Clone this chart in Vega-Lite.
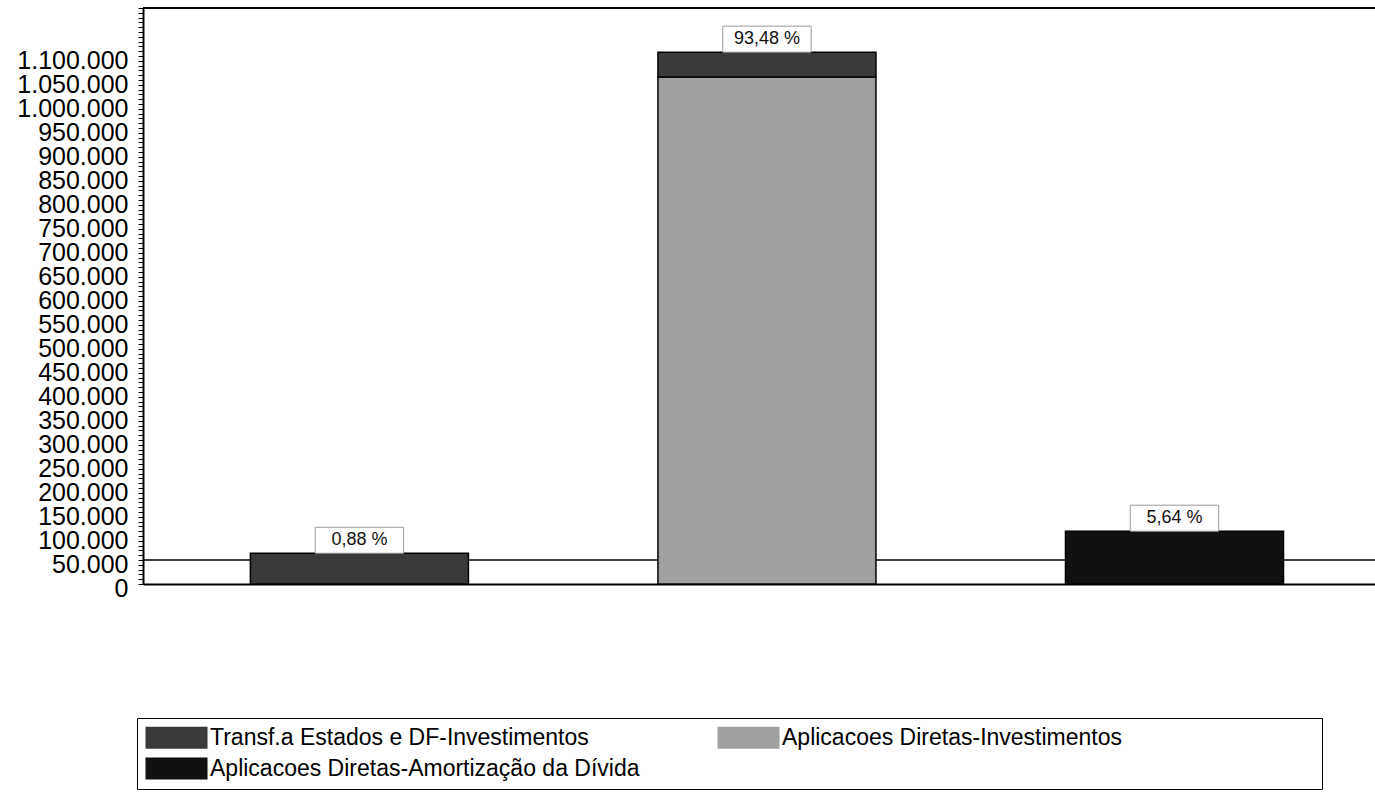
{
  "$schema": "https://vega.github.io/schema/vega-lite/v6.json",
  "autosize": "none",
  "padding": {"left": 143, "top": 8, "right": 0, "bottom": 208},
  "width": 1232,
  "height": 576,
  "background": "white",
  "config": {
    "locale": {"number": {"decimal": ",", "thousands": ".", "grouping": [3], "currency": ["R$ ", ""]}},
    "font": "Liberation Sans",
    "view": {"stroke": null}
  },
  "datasets": {
    "barras": [
      {"barra": "1", "serie": "Transf.a Estados e DF-Investimentos", "valor": 64000},
      {"barra": "2", "serie": "Aplicacoes Diretas-Investimentos", "valor": 1056000},
      {"barra": "2", "serie": "Transf.a Estados e DF-Investimentos", "valor": 52000},
      {"barra": "3", "serie": "Aplicacoes Diretas-Amortização da Dívida", "valor": 110000}
    ],
    "rotulos": [
      {"barra": "1", "total": 64000, "pct": "0,88 %"},
      {"barra": "2", "total": 1108000, "pct": "93,48 %"},
      {"barra": "3", "total": 110000, "pct": "5,64 %"}
    ]
  },
  "layer": [
    {
      "data": {"values": [{}]},
      "mark": {"type": "rule", "color": "black", "strokeWidth": 1.5},
      "encoding": {"y": {"datum": 50000, "type": "quantitative"}}
    },
    {
      "data": {"values": [{}]},
      "mark": {"type": "rule", "color": "black", "strokeWidth": 2},
      "encoding": {"y": {"datum": 1200000, "type": "quantitative"}}
    },
    {
      "data": {"name": "barras"},
      "mark": {"type": "bar", "stroke": "black", "strokeWidth": 1.5, "opacity": 1},
      "encoding": {
        "x": {
          "field": "barra", "type": "nominal",
          "scale": {"domain": ["1", "2", "3"], "paddingInner": 0.465, "paddingOuter": 0.244, "align": 0.54},
          "axis": {"title": null, "labels": false, "ticks": false, "domainColor": "black", "domainWidth": 2}
        },
        "y": {
          "field": "valor", "type": "quantitative", "stack": "zero",
          "scale": {"domain": [0, 1200000], "nice": false},
          "axis": {
            "title": null, "tickCount": 120, "format": ",d",
            "labelExpr": "datum.value % 50000 === 0 && datum.value <= 1100000 ? datum.label : ''",
            "labelFontSize": 25, "labelColor": "black", "labelPadding": 10, "labelOffset": 4,
            "tickSize": 5, "tickColor": "black", "domainColor": "black", "domainWidth": 2,
            "grid": false, "labelOverlap": false, "labelFlush": false, "labelBound": false
          }
        },
        "order": {"field": "valor", "sort": "descending"},
        "color": {
          "field": "serie", "type": "nominal",
          "scale": {
            "domain": ["Transf.a Estados e DF-Investimentos", "Aplicacoes Diretas-Amortização da Dívida", "Aplicacoes Diretas-Investimentos"],
            "range": ["#3a3a3a", "#111111", "#a0a0a0"]
          },
          "legend": {
            "title": null, "orient": "none", "legendX": -6, "legendY": 710,
            "columns": 2, "symbolType": "M-1,-1H4.64V1H-1Z", "symbolSize": 484,
            "symbolStrokeWidth": 0, "symbolOpacity": 1,
            "labelFontSize": 23, "labelColor": "black", "labelOffset": 42, "labelLimit": 2000,
            "columnPadding": 77, "rowPadding": 7, "padding": 8,
            "strokeColor": "black", "fillColor": "white",
            "labelExpr": "indexof(datum.label, 'Diretas-Investimentos') > 0 ? datum.label + '\u00a0\u00a0\u00a0\u00a0\u00a0\u00a0\u00a0\u00a0\u00a0\u00a0\u00a0\u00a0\u00a0\u00a0\u00a0\u00a0\u00a0\u00a0\u00a0\u00a0\u00a0\u00a0\u00a0\u00a0\u00a0\u00a0\u00a0\u00a0\u00a0\u00a0\u200b' : datum.label"
          }
        }
      }
    },
    {
      "data": {"name": "rotulos"},
      "mark": {"type": "point", "shape": "M-3.4,-2H3.4V0H-3.4Z", "filled": true, "fill": "white", "stroke": "#999999", "strokeWidth": 1, "opacity": 1, "size": 676},
      "encoding": {
        "x": {"field": "barra", "type": "nominal"},
        "y": {"field": "total", "type": "quantitative"}
      }
    },
    {
      "data": {"name": "rotulos"},
      "mark": {"type": "text", "fontSize": 18, "dy": -13, "baseline": "middle", "color": "#111111"},
      "encoding": {
        "x": {"field": "barra", "type": "nominal"},
        "y": {"field": "total", "type": "quantitative"},
        "text": {"field": "pct"}
      }
    }
  ]
}
